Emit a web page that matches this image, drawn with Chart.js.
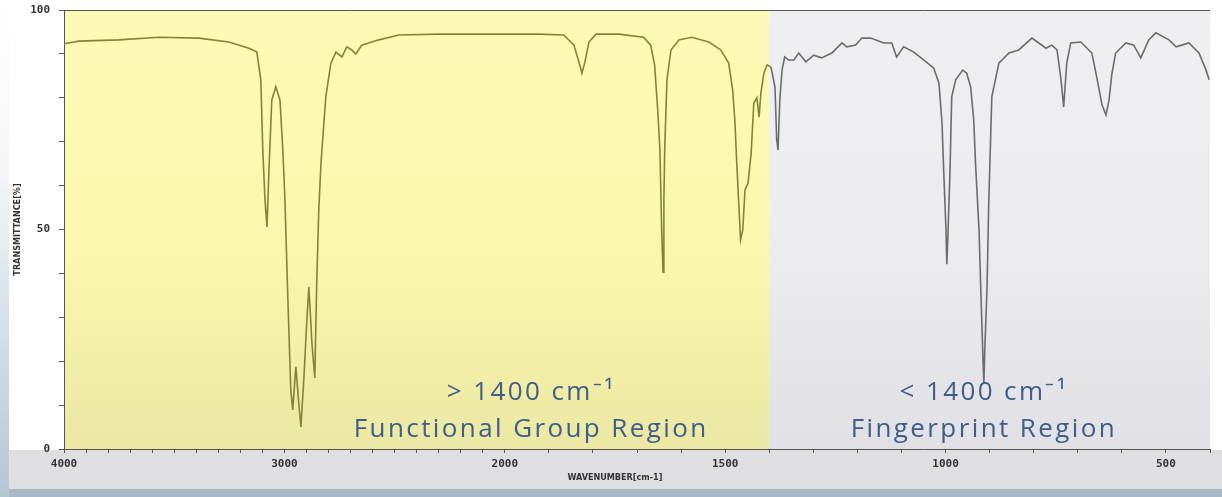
<!DOCTYPE html>
<html>
<head>
<meta charset="utf-8">
<title>IR spectrum</title>
<script src="https://cdn.jsdelivr.net/npm/chart.js@4.4.1/dist/chart.umd.min.js"></script>
<style>
  html, body { margin: 0; padding: 0; background: #fff; }
  #wrap { position: relative; width: 1222px; height: 497px; overflow: hidden; }
  #band { position: absolute; left: 0; top: 450px; width: 1222px; height: 39px; background: #dfdfe2; }
  #strip { position: absolute; left: 0; top: 489px; width: 1222px; height: 8px; background: #a6b9c5; }
  #edge { position: absolute; left: 0; top: 0; width: 9px; height: 497px;
          background: linear-gradient(#ffffff, #f4f6f8 35%, #b3c7d3); }
  canvas { position: absolute; left: 0; top: 0; }
</style>
</head>
<body>
<div id="wrap">
  <div id="band"></div>
  <div id="strip"></div>
  <div id="edge"></div>
  <canvas id="irChart" width="1222" height="497"></canvas>
</div>
<script>
  // Spectrum (wavenumber in cm-1, transmittance in %)
  const wavenumbers = [
    4000, 3932, 3751, 3569, 3388, 3252, 3161, 3125, 3107, 3098, 3088, 3079, 3070, 3057, 3039,
    3020, 3007, 2998, 2984, 2971, 2962, 2948, 2934, 2925, 2912, 2898, 2889, 2875, 2862, 2853,
    2844, 2834, 2812, 2789, 2766, 2739, 2717, 2694, 2676, 2649, 2571, 2481, 2299, 2118, 2000,
    1923, 1866, 1843, 1832, 1825, 1818, 1809, 1793, 1741, 1685, 1669, 1660, 1653, 1648, 1644,
    1641, 1639, 1637, 1632, 1623, 1605, 1576, 1537, 1510, 1492, 1483, 1478, 1474, 1469, 1465,
    1460, 1455, 1448, 1441, 1435, 1428, 1423, 1419, 1412, 1405, 1396, 1387, 1383, 1380, 1376,
    1371, 1365, 1356, 1344, 1333, 1317, 1299, 1281, 1258, 1235, 1224, 1204, 1190, 1170, 1140,
    1122, 1111, 1095, 1072, 1049, 1027, 1015, 1008, 1004, 999, 997, 995, 990, 986, 977,
    961, 952, 943, 936, 932, 924, 920, 915, 913, 911, 906, 902, 895, 879, 856,
    834, 804, 772, 759, 747, 738, 732, 725, 716, 693, 668, 657, 645, 636, 629,
    623, 614, 591, 573, 557, 539, 523, 493, 477, 464, 448, 425, 409, 402
  ];
  const transmittance = [
    92.3, 92.9, 93.2, 93.8, 93.6, 92.7, 91.3, 90.4, 84.1, 68.1, 56.7, 50.6, 63.6, 79.5, 82.5,
    79.5, 68.1, 57.4, 33.9, 13.4, 8.9, 18.7, 10.0, 5.0, 15.7, 29.4, 36.9, 24.1, 16.2, 38.5,
    54.4, 65.1, 80.2, 87.9, 90.4, 89.3, 91.6, 90.9, 90.0, 92.0, 93.2, 94.3, 94.5, 94.5, 94.5,
    94.5, 94.3, 92.0, 88.2, 85.6, 88.2, 92.7, 94.5, 94.5, 93.8, 92.0, 87.5, 77.2, 68.1, 49.9,
    40.3, 56.7, 68.8, 84.1, 90.9, 93.2, 93.8, 92.7, 90.9, 87.9, 81.8, 74.9, 65.8, 55.6, 47.6,
    49.9, 59.0, 60.6, 67.4, 78.8, 80.0, 75.6, 81.1, 85.6, 87.5, 87.0, 82.5, 70.4, 68.1, 79.5,
    86.3, 89.3, 88.6, 88.6, 90.2, 88.2, 89.7, 89.1, 90.2, 92.5, 91.6, 92.0, 93.6, 93.6, 92.5,
    92.5, 89.3, 91.6, 90.4, 88.6, 86.8, 83.4, 74.3, 62.9, 49.9, 42.1, 47.6, 62.9, 80.2, 84.1,
    86.3, 85.6, 82.5, 74.9, 65.1, 49.9, 36.2, 20.3, 15.0, 22.6, 36.2, 56.0, 80.2, 87.9, 90.2,
    90.9, 93.6, 91.3, 92.0, 90.9, 84.1, 77.9, 87.9, 92.5, 92.7, 90.2, 84.7, 78.4, 76.1, 79.5,
    85.2, 90.2, 92.5, 92.0, 89.1, 93.2, 94.8, 93.2, 91.6, 92.0, 92.5, 90.2, 86.3, 84.1
  ];
  const xTickLabels = [4000, 3000, 2000, 1500, 1000, 500];
  const yTickLabels = [0, 50, 100];
  const regionSplit = 1400;
  const functionalText = ["> 1400 cm\u207B\u00B9", "Functional Group Region"];
  const fingerprintText = ["< 1400 cm\u207B\u00B9", "Fingerprint Region"];
  const xTitle = "WAVENUMBER[cm-1]";
  const yTitle = "TRANSMITTANCE[%]";

  // IR charts change scale at 2000 cm-1: below it each unit takes twice the room
  function wavePos(v) {
    return v >= 2000 ? (4000 - v) / 2 : 1000 + (2000 - v);
  }
  function posWave(p) {
    return p <= 1000 ? 4000 - 2 * p : 2000 - (p - 1000);
  }

  class WaveScale extends Chart.LinearScale {
    buildTicks() {
      const ticks = [];
      for (let v = this.max; v >= this.min; v -= 100) ticks.push({ value: v });
      return ticks;
    }
    getPixelForValue(value) {
      const a = wavePos(this.max), b = wavePos(this.min);
      return this.getPixelForDecimal((wavePos(value) - a) / (b - a));
    }
    getValueForPixel(pixel) {
      const a = wavePos(this.max), b = wavePos(this.min);
      return posWave(a + this.getDecimalForPixel(pixel) * (b - a));
    }
  }
  WaveScale.id = "wave";
  WaveScale.defaults = Chart.LinearScale.defaults;
  Chart.register(WaveScale);

  const OLIVE = "#84833a";
  const GRAY = "#6c6c6c";
  const AXIS = "#555555";

  const backdrop = {
    id: "backdrop",
    beforeDraw(chart) {
      const { ctx, chartArea: a } = chart;
      const split = chart.scales.x.getPixelForValue(regionSplit);
      ctx.save();
      let g = ctx.createLinearGradient(0, a.top, 0, a.bottom);
      g.addColorStop(0, "#fefab6");
      g.addColorStop(0.55, "#fcf7ae");
      g.addColorStop(1, "#ebe8a4");
      ctx.fillStyle = g;
      ctx.fillRect(a.left, a.top, split - a.left, a.bottom - a.top);
      g = ctx.createLinearGradient(0, a.top, 0, a.bottom);
      g.addColorStop(0, "#efeff2");
      g.addColorStop(0.55, "#ececef");
      g.addColorStop(1, "#e1e1e5");
      ctx.fillStyle = g;
      ctx.fillRect(split, a.top, a.right - split, a.bottom - a.top);
      ctx.restore();
    },
    afterDatasetsDraw(chart) {
      const { ctx } = chart;
      const x = chart.scales.x;
      ctx.save();
      ctx.fillStyle = "#3d5e88";
      ctx.textAlign = "center";
      ctx.textBaseline = "alphabetic";
      ctx.font = "26px 'Open Sans'";
      ctx.letterSpacing = "2.4px";
      [[functionalText, 1940], [fingerprintText, 913]].forEach(([lines, at]) => {
        const cx = x.getPixelForValue(at);
        ctx.fillText(lines[0], cx, 400);
        ctx.fillText(lines[1], cx, 437);
      });
      ctx.restore();
    },
    afterDraw(chart) {
      const { ctx, chartArea: a } = chart;
      ctx.save();
      ctx.strokeStyle = AXIS;
      ctx.lineWidth = 1;
      ctx.beginPath();
      ctx.moveTo(a.left, a.top + 0.5);
      ctx.lineTo(a.right, a.top + 0.5);
      ctx.stroke();
      ctx.fillStyle = "#333";
      ctx.font = "bold 9px 'DejaVu Sans Condensed'";
      ctx.textAlign = "center";
      ctx.textBaseline = "middle";
      ctx.fillText(xTitle, chart.scales.x.getPixelForValue(1750), 478);
      ctx.restore();
    }
  };

  new Chart(document.getElementById("irChart"), {
    type: "line",
    data: {
      datasets: [
        {
          data: wavenumbers.map((w, i) => ({ x: w, y: transmittance[i] })),
          borderColor: OLIVE,
          borderWidth: 1.6,
          pointRadius: 0,
          tension: 0,
          fill: false,
          segment: {
            borderColor: (c) => (wavenumbers[c.p0DataIndex] > regionSplit ? OLIVE : GRAY),
          },
        },
      ],
    },
    options: {
      responsive: false,
      animation: false,
      events: [],
      layout: { padding: { left: 0, top: 10, right: 12, bottom: 0 } },
      plugins: {
        legend: { display: false },
        tooltip: { enabled: false },
      },
      scales: {
        x: {
          type: "wave",
          min: 400,
          max: 4000,
          grid: { drawOnChartArea: false, tickLength: 4, tickColor: AXIS },
          border: { color: AXIS },
          ticks: {
            autoSkip: false,
            maxRotation: 0,
            padding: 5,
            color: "#333",
            font: { family: "'DejaVu Sans Mono'", size: 11, weight: "bold" },
            callback: (v) => (xTickLabels.includes(v) ? String(v) : ""),
          },
          afterFit: (s) => { s.height = 48; },
        },
        y: {
          min: 0,
          max: 100,
          grid: { drawOnChartArea: false, tickLength: 5, tickColor: AXIS },
          border: { color: AXIS },
          ticks: {
            stepSize: 10,
            autoSkip: false,
            padding: 9,
            color: "#333",
            font: { family: "'DejaVu Sans Mono'", size: 11, weight: "bold" },
            callback: (v) => (yTickLabels.includes(v) ? String(v) : ""),
          },
          title: {
            display: true,
            text: yTitle,
            color: "#333",
            font: { family: "'DejaVu Sans Condensed'", size: 9, weight: "bold" },
            padding: { top: 12, bottom: 0 },
          },
          afterFit: (s) => {
            s.width = 64;
            s.paddingTop = 0;
            s.paddingBottom = 0;
          },
        },
      },
    },
    plugins: [backdrop],
  });
</script>
</body>
</html>
